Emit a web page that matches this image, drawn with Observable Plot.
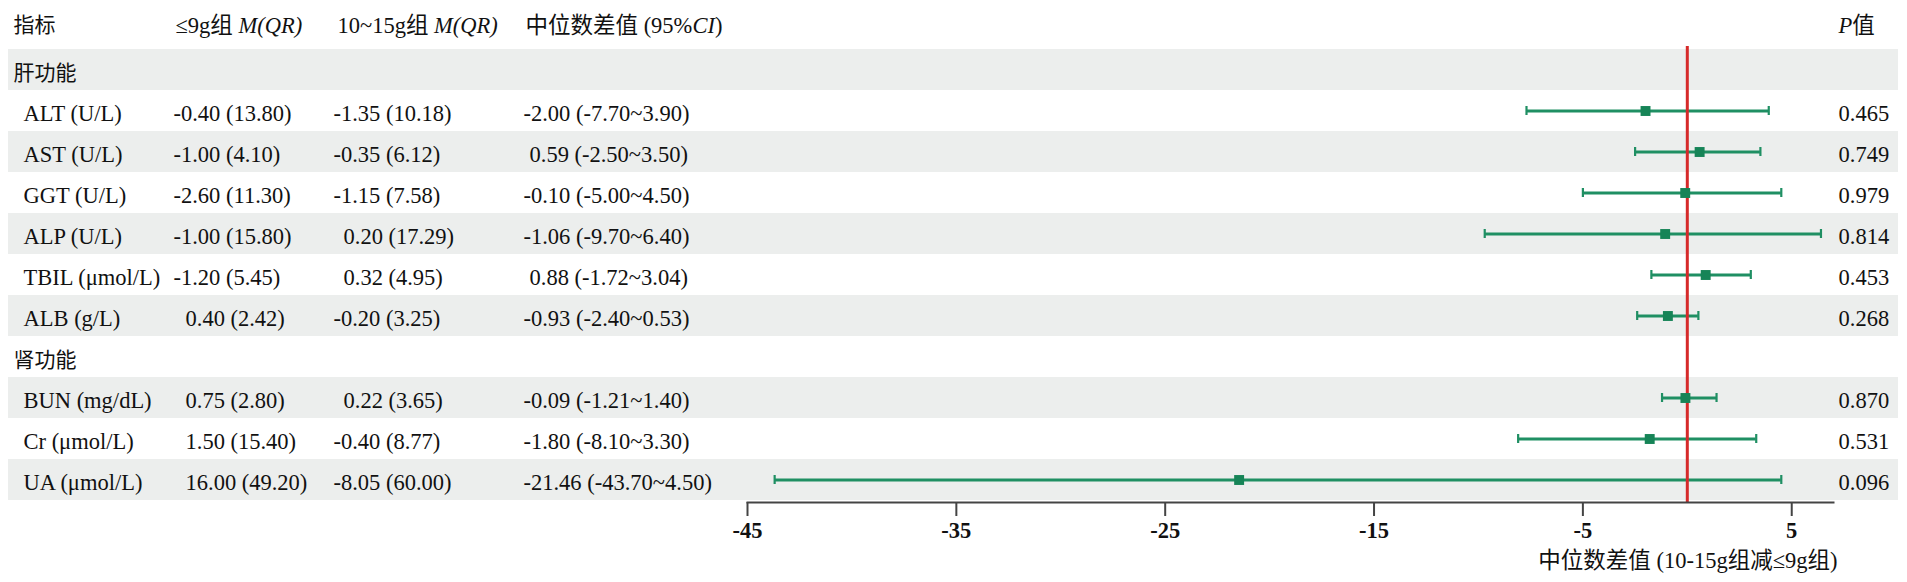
<!DOCTYPE html>
<html>
<head>
<meta charset="utf-8">
<script src="https://cdn.jsdelivr.net/npm/d3@7"></script>
<script src="https://cdn.jsdelivr.net/npm/@observablehq/plot@0.6"></script>
<style>
  html, body { margin: 0; padding: 0; background: #fff; }
  #chart svg { display: block; overflow: visible; }
</style>
</head>
<body>
<div id="chart"></div>
<script>
// ---- data ----
const rowLabels = ["肝功能", "ALT (U/L)", "AST (U/L)", "GGT (U/L)", "ALP (U/L)", "TBIL (μmol/L)", "ALB (g/L)",
                   "肾功能", "BUN (mg/dL)", "Cr (μmol/L)", "UA (μmol/L)"];
const groupLabels = ["肝功能", "肾功能"];
const items = ["ALT (U/L)", "AST (U/L)", "GGT (U/L)", "ALP (U/L)", "TBIL (μmol/L)", "ALB (g/L)",
               "BUN (mg/dL)", "Cr (μmol/L)", "UA (μmol/L)"];
const lowMedian  = [-0.40, -1.00, -2.60, -1.00, -1.20, 0.40, 0.75, 1.50, 16.00];
const lowQR      = [13.80, 4.10, 11.30, 15.80, 5.45, 2.42, 2.80, 15.40, 49.20];
const highMedian = [-1.35, -0.35, -1.15, 0.20, 0.32, -0.20, 0.22, -0.40, -8.05];
const highQR     = [10.18, 6.12, 7.58, 17.29, 4.95, 3.25, 3.65, 8.77, 60.00];
const diffMedian = [-2.00, 0.59, -0.10, -1.06, 0.88, -0.93, -0.09, -1.80, -21.46];
const diffLow    = [-7.70, -2.50, -5.00, -9.70, -1.72, -2.40, -1.21, -8.10, -43.70];
const diffHigh   = [3.90, 3.50, 4.50, 6.40, 3.04, 0.53, 1.40, 3.30, 4.50];
const pValues    = [0.465, 0.749, 0.979, 0.814, 0.453, 0.268, 0.870, 0.531, 0.096];
const xTicks = [-45, -35, -25, -15, -5, 5];
const headers = ["指标", "≤9g组 M(QR)", "10~15g组 M(QR)", "中位数差值 (95%CI)", "P值"];
const axisTitle = "中位数差值 (10-15g组减≤9g组)";

// ---- derived table ----
const f2 = d => d.toFixed(2);
const data = items.map((name, i) => ({
  name,
  low: lowMedian[i], high: highMedian[i], diff: diffMedian[i],
  lo: diffLow[i], hi: diffHigh[i],
  lowText: `${f2(lowMedian[i])} (${f2(lowQR[i])})`,
  highText: `${f2(highMedian[i])} (${f2(highQR[i])})`,
  diffText: `${f2(diffMedian[i])} (${f2(diffLow[i])}~${f2(diffHigh[i])})`,
  pText: pValues[i].toFixed(3)
}));
const stripes = rowLabels.filter((d, i) => i % 2 === 0);

const green = "#1f8f63", greenDark = "#168457", red = "#d62a2a", band = "#eceeed";
const FS = 22.5;
const ML = 747, MR = 74;
const textBase = {frameAnchor: "left", textAnchor: "start", lineAnchor: "middle", dy: 3, fontSize: FS, fill: "#111"};

const plot = Plot.plot({
  width: 1907,
  height: 582,
  marginLeft: ML,
  marginRight: MR,
  marginTop: 46,
  marginBottom: 80,
  style: {fontFamily: "'Liberation Serif', 'Noto Sans CJK SC', serif", background: "#fff", overflow: "visible"},
  x: {domain: [-45, 7]},
  y: {domain: rowLabels, padding: 0, axis: null},
  marks: [
    Plot.cell(stripes, {y: d => d, fill: band, insetLeft: -(ML - 8), insetRight: -65}),
    // table text
    Plot.text(groupLabels, {...textBase, y: d => d, text: d => d, dx: 13 - ML, fontSize: 21}),
    Plot.text(data, {...textBase, y: "name", text: "name", dx: 23 - ML}),
    Plot.text(data.filter(d => d.low < 0), {...textBase, y: "name", text: "lowText", dx: 173 - ML}),
    Plot.text(data.filter(d => d.low >= 0), {...textBase, y: "name", text: "lowText", dx: 185 - ML}),
    Plot.text(data.filter(d => d.high < 0), {...textBase, y: "name", text: "highText", dx: 333 - ML}),
    Plot.text(data.filter(d => d.high >= 0), {...textBase, y: "name", text: "highText", dx: 343 - ML}),
    Plot.text(data.filter(d => d.diff < 0), {...textBase, y: "name", text: "diffText", dx: 523 - ML}),
    Plot.text(data.filter(d => d.diff >= 0), {...textBase, y: "name", text: "diffText", dx: 529 - ML}),
    Plot.text(data, {...textBase, y: "name", text: "pText", frameAnchor: "right", dx: 5}),
    // headers
    Plot.text([headers[0]], {...textBase, frameAnchor: "top-left", dx: 13 - ML, dy: -21, fontSize: 21}),
    Plot.text([headers[1]], {...textBase, frameAnchor: "top-left", dx: 175 - ML, dy: -21}),
    Plot.text([headers[2]], {...textBase, frameAnchor: "top-left", dx: 337 - ML, dy: -21}),
    Plot.text([headers[3]], {...textBase, frameAnchor: "top-left", dx: 525 - ML, dy: -21}),
    Plot.text([headers[4]], {...textBase, frameAnchor: "top-right", dx: 5, dy: -21}),
    // forest
    Plot.ruleY(data, {y: "name", x1: "lo", x2: "hi", stroke: green, strokeWidth: 3}),
    Plot.tickX(data, {x: "lo", y: "name", stroke: green, strokeWidth: 2.2, insetTop: 16, insetBottom: 16}),
    Plot.tickX(data, {x: "hi", y: "name", stroke: green, strokeWidth: 2.2, insetTop: 16, insetBottom: 16}),
    Plot.ruleX([0], {stroke: red, strokeWidth: 3}),
    Plot.dot(data, {x: "diff", y: "name", symbol: "square", r: 5.6, fill: greenDark, stroke: "none"}),
    // axis
    Plot.frame({anchor: "bottom", stroke: "#444", strokeWidth: 2}),
    Plot.axisX({ticks: xTicks, tickSize: 14, tickPadding: 6, fontSize: FS, fontWeight: "bold",
                stroke: "#444", strokeWidth: 2, tickFormat: d => String(d), label: null}),
    Plot.text([axisTitle], {frameAnchor: "bottom-right", textAnchor: "end", lineAnchor: "middle",
                            dx: 4, dy: 58, fontSize: FS, fill: "#111"})
  ]
});

document.getElementById("chart").appendChild(plot);

// rich text: italic parts of headers
d3.select(plot).selectAll("text").each(function () {
  const t = this.textContent;
  const el = d3.select(this);
  const rich = (parts) => {
    el.text("");
    parts.forEach(([s, it]) => el.append("tspan").attr("font-style", it ? "italic" : null).text(s));
  };
  if (t === headers[1]) rich([["≤9g组 ", false], ["M(QR)", true]]);
  else if (t === headers[2]) rich([["10~15g组 ", false], ["M(QR)", true]]);
  else if (t === headers[3]) rich([["中位数差值 (95%", false], ["CI", true], [")", false]]);
  else if (t === headers[4]) rich([["P", true], ["值", false]]);
});
d3.select(plot).selectAll("[aria-label='x-axis tick label'] text").attr("fill", "#111");
</script>
</body>
</html>
